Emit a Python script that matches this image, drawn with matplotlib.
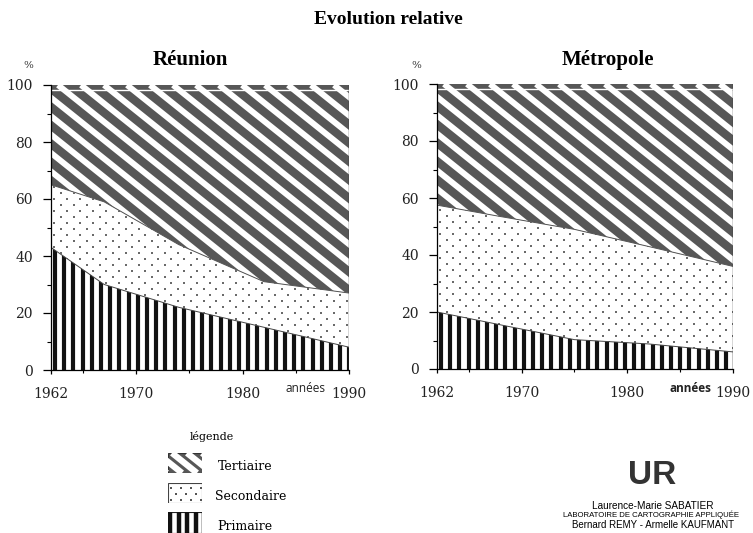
import numpy as np
import matplotlib
matplotlib.use('Agg')
import matplotlib.pyplot as plt
from matplotlib.collections import LineCollection
from matplotlib.patches import Rectangle

# données (parts en %)
annees_reunion = [1962, 1967, 1974, 1982, 1990]
primaire_reunion = [43, 30, 22, 15, 8]
secondaire_reunion = [22, 29, 22, 16, 19]

annees_metro = [1962, 1968, 1975, 1982, 1990]
primaire_metro = [20, 15.5, 10.3, 8.8, 6]
secondaire_metro = [37.5, 38, 38.7, 34.2, 30]

x_major = [1962, 1970, 1980, 1990]
x_minor = [1965, 1975, 1985]

FIG_W, FIG_H = 753, 533
SERIF = 'DejaVu Serif'
TITLE_FONT = 'Liberation Serif'
GRIS = '#575757'

fig = plt.figure(figsize=(FIG_W / 100, FIG_H / 100), dpi=100)


def fx(x):
    return x / FIG_W


def fy(y):
    return 1 - y / FIG_H


def taille_px(ax):
    pos = ax.get_position()
    return pos.width * FIG_W, pos.height * FIG_H


def decouper(artiste, clip):
    if isinstance(clip, tuple):
        artiste.set_clip_path(*clip)
    else:
        artiste.set_clip_path(clip)


# hachures obliques (tertiaire)
def rayures_obliques(ax, clip, periode, pente, lw, couleur, phase=0.0, z=1.5):
    W, H = taille_px(ax)
    n = int(np.ceil((H / pente + periode) / periode))
    segs = []
    for c in np.arange(phase - n * periode, W + periode, periode):
        segs.append([(c / W, 1.0), ((c + H / pente) / W, 0.0)])
    lc = LineCollection(segs, colors=couleur, linewidths=lw, transform=ax.transAxes, zorder=z)
    ax.add_collection(lc, autolim=False)
    decouper(lc, clip)


# rayures verticales (primaire)
def rayures_verticales(ax, clip, periode, lw, couleur, phase=0.0, z=1.5):
    W, H = taille_px(ax)
    segs = [[(c / W, 0.0), (c / W, 1.0)] for c in np.arange(phase, W + periode, periode)]
    lc = LineCollection(segs, colors=couleur, linewidths=lw, transform=ax.transAxes, zorder=z)
    ax.add_collection(lc, autolim=False)
    decouper(lc, clip)


# semis de points (secondaire)
def points(ax, clip, dx, dy, taille, couleur, z=1.5):
    W, H = taille_px(ax)
    xs, ys = [], []
    for i, y in enumerate(np.arange(dy / 2, H, dy)):
        dec = dx / 2 if i % 2 else 0
        for x in np.arange(3 + dec, W, dx):
            xs.append(x / W)
            ys.append(y / H)
    ln, = ax.plot(xs, ys, linestyle='none', marker='s', markersize=taille,
                  markeredgewidth=0, color=couleur, transform=ax.transAxes, zorder=z)
    decouper(ln, clip)


def panneau(rect, annees, primaire, secondaire, titre, x_titre, x_pourcent, gras_annees):
    ax = fig.add_axes(rect)
    annees = np.array(annees, dtype=float)
    p = np.array(primaire, dtype=float)
    s = p + np.array(secondaire, dtype=float)
    top = np.full_like(p, 100.0)

    f1 = ax.fill_between(annees, 0, p, facecolor='white', linewidth=0, zorder=1)
    f2 = ax.fill_between(annees, p, s, facecolor='white', linewidth=0, zorder=1)
    f3 = ax.fill_between(annees, s, top, facecolor=GRIS, linewidth=0, zorder=1)

    rayures_verticales(ax, (f1.get_paths()[0], ax.transData), 9.2, 3.0, '#111111', phase=4)
    points(ax, (f2.get_paths()[0], ax.transData), 13, 6, 1.8, '#6a6a6a')
    rayures_obliques(ax, (f3.get_paths()[0], ax.transData), 23, 0.8, 4.3, 'white', phase=7)

    ax.plot(annees, p, color='#444444', lw=0.7, zorder=2)
    ax.plot(annees, s, color='#555555', lw=0.7, zorder=2)
    ax.axhline(98.2, color='white', lw=1.0, zorder=2)
    ax.axvline(annees[-1], color='#333333', lw=1.0, zorder=2)

    ax.set_xlim(annees[0], annees[-1])
    ax.set_ylim(0, 100)
    for side in ['top', 'right']:
        ax.spines[side].set_visible(False)
    for side in ['left', 'bottom']:
        ax.spines[side].set_linewidth(0.9)
        ax.spines[side].set_zorder(3)

    ax.set_xticks(x_major)
    ax.set_xticks(x_minor, minor=True)
    ax.set_xticklabels([str(a) for a in x_major])
    ax.set_yticks(range(0, 101, 20))
    ax.set_yticks(range(10, 100, 20), minor=True)
    ax.tick_params(axis='y', which='major', length=6, width=0.9, pad=7)
    ax.tick_params(axis='y', which='minor', length=3, width=0.8)
    ax.tick_params(axis='x', which='major', length=3, width=0.9, pad=9)
    ax.tick_params(axis='x', which='minor', length=2, width=0.8)
    for lab in ax.get_xticklabels() + ax.get_yticklabels():
        lab.set_fontfamily(SERIF)
        lab.set_fontsize(10)
        lab.set_color('#222222')

    fig.text(fx(x_titre), fy(60), titre, ha='center', va='center',
             family=TITLE_FONT, fontweight='bold', fontsize=15)
    fig.text(fx(x_pourcent), fy(66), '%', ha='center', va='center',
             family=SERIF, fontsize=7.5, color='#333333')
    x_ann = rect[0] * FIG_W + rect[2] * FIG_W - 43
    fig.text(fx(x_ann), fy(389), 'années', ha='center', va='center',
             family='Open Sans', fontsize=8.5, color='#222222',
             fontweight='bold' if gras_annees else 'normal')
    return ax


panneau([fx(51), fy(370), 298 / FIG_W, 285 / FIG_H],
        annees_reunion, primaire_reunion, secondaire_reunion,
        'Réunion', 190, 28, False)
panneau([fx(437), fy(369), 296 / FIG_W, 285 / FIG_H],
        annees_metro, primaire_metro, secondaire_metro,
        'Métropole', 608, 416, True)

fig.text(fx(388), fy(20), 'Evolution relative', ha='center', va='center',
         family=TITLE_FONT, fontweight='bold', fontsize=14)

# légende
fig.text(fx(212), fy(437), 'légende', ha='center', va='center', family=SERIF, fontsize=8)

cases = [
    ('Tertiaire', 453, 473, 218, 467),
    ('Secondaire', 483, 503, 215, 497),
    ('Primaire', 512, 533, 217, 527),
]
for nom, y0, y1, xt, yt in cases:
    axl = fig.add_axes([fx(168), fy(y1), 34 / FIG_W, (y1 - y0) / FIG_H])
    axl.set_xlim(0, 1)
    axl.set_ylim(0, 1)
    axl.axis('off')
    if nom == 'Tertiaire':
        fond = Rectangle((0, 0), 1, 1, transform=axl.transAxes, facecolor=GRIS,
                         edgecolor='#333333', lw=0.8, zorder=1)
        axl.add_patch(fond)
        rayures_obliques(axl, fond, 15, 0.8, 4.5, 'white', phase=4)
    elif nom == 'Secondaire':
        fond = Rectangle((0, 0), 1, 1, transform=axl.transAxes, facecolor='white',
                         edgecolor='#444444', lw=0.8, zorder=1)
        axl.add_patch(fond)
        points(axl, fond, 10, 6, 1.8, '#555555')
    else:
        fond = Rectangle((0, 0), 1, 1, transform=axl.transAxes, facecolor='white',
                         edgecolor='#222222', lw=0.8, zorder=1)
        axl.add_patch(fond)
        rayures_verticales(axl, fond, 8.5, 3.2, '#111111', phase=2)
    fig.text(fx(xt), fy(yt), nom, ha='left', va='center', family=SERIF, fontsize=9)

# logo et signature
fig.text(fx(652), fy(476), 'UR', ha='center', va='center', family='Liberation Sans',
         fontweight='bold', fontsize=24, color='#333333')
fig.text(fx(653), fy(506), 'Laurence-Marie SABATIER', ha='center', va='center',
         family='Liberation Sans', fontsize=7.2)
fig.text(fx(651), fy(515), 'LABORATOIRE DE CARTOGRAPHIE APPLIQUÉE', ha='center', va='center',
         family='Liberation Sans', fontsize=5.6)
fig.text(fx(653), fy(525), 'Bernard REMY - Armelle KAUFMANT', ha='center', va='center',
         family='Liberation Sans', fontsize=7)

fig.savefig('out.png', dpi=100)
